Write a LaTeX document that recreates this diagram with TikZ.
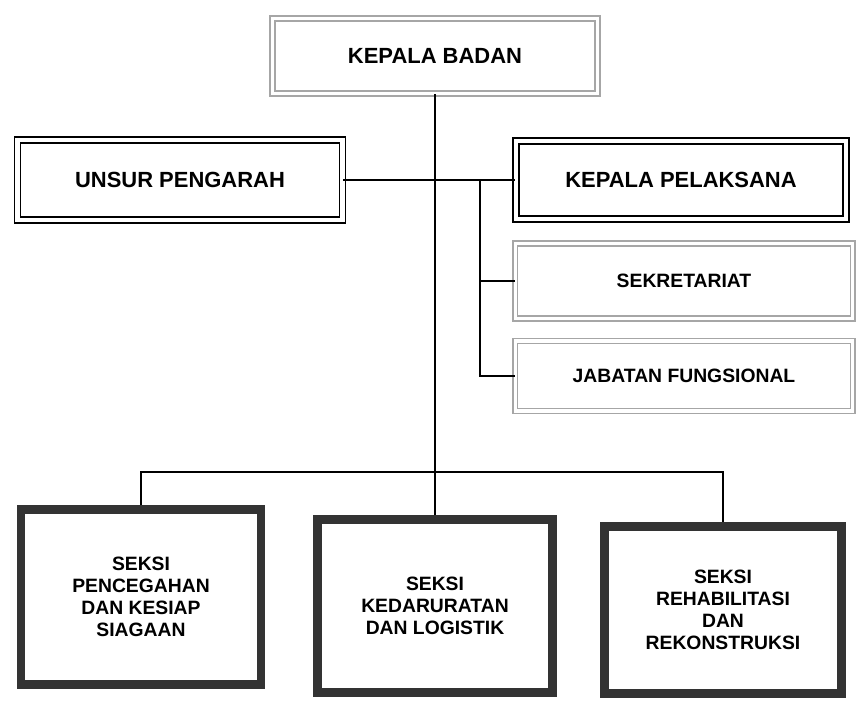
\documentclass[tikz,border=0pt]{standalone}
\usepackage{fontspec}
\setmainfont{Liberation Sans}

\begin{document}
\begin{tikzpicture}[x=0.02cm,y=-0.02cm,
  teks/.style={font=\fontsize{11}{12.5}\selectfont\bfseries,align=center},
  teksbesar/.style={font=\fontsize{12.5}{14}\selectfont\bfseries},
  kotakabu/.style={teks,draw=black!35,double,double distance=2pt,line width=0.8pt},
  kotakganda/.style={teks,teksbesar,draw=black,double,double distance=2.5pt,line width=1pt},
  kotaktebal/.style={teks,draw=black!80,line width=5pt},
  garis/.style={line width=1.6pt}]
\useasboundingbox (0,0) rectangle (859,701);
\node [kotakabu,teksbesar,minimum width=6.5cm,minimum height=1.5cm] (kb) at (435,56) {KEPALA BADAN};
\node [kotakganda,minimum width=6.5cm,minimum height=1.6cm] (up) at (180,180) {UNSUR PENGARAH};
\node [kotakganda,minimum width=6.6cm,minimum height=1.55cm] (kp) at (681,180) {KEPALA PELAKSANA};
\node [kotakabu,minimum width=6.75cm,minimum height=1.5cm] (sekr) at (684,281) {SEKRETARIAT};
\node [kotakabu,minimum width=6.75cm,minimum height=1.4cm] (jf) at (684,376) {JABATAN FUNGSIONAL};
\node [kotaktebal,minimum width=4.8cm,minimum height=3.5cm] (kiri) at (141,597)
  {SEKSI\\PENCEGAHAN\\DAN KESIAP\\SIAGAAN};
\node [kotaktebal,minimum width=4.7cm,minimum height=3.45cm] (tengah) at (435,606)
  {SEKSI\\KEDARURATAN\\DAN LOGISTIK};
\node [kotaktebal,minimum width=4.75cm,minimum height=3.35cm] (kanan) at (723,610)
  {SEKSI\\REHABILITASI\\DAN\\REKONSTRUKSI};
% garis penghubung
\coordinate (bus) at (435,472);
\coordinate (cabang) at (480,180);
\draw [garis] (kb.south) -- (tengah.north);
\draw [garis] (up.east) -- (kp.west);
\draw [garis] (cabang) |- (sekr.west);
\draw [garis] (cabang) |- (jf.west);
\draw [garis] (kiri.north) |- (bus) -| (kanan.north);
\end{tikzpicture}
\end{document}
